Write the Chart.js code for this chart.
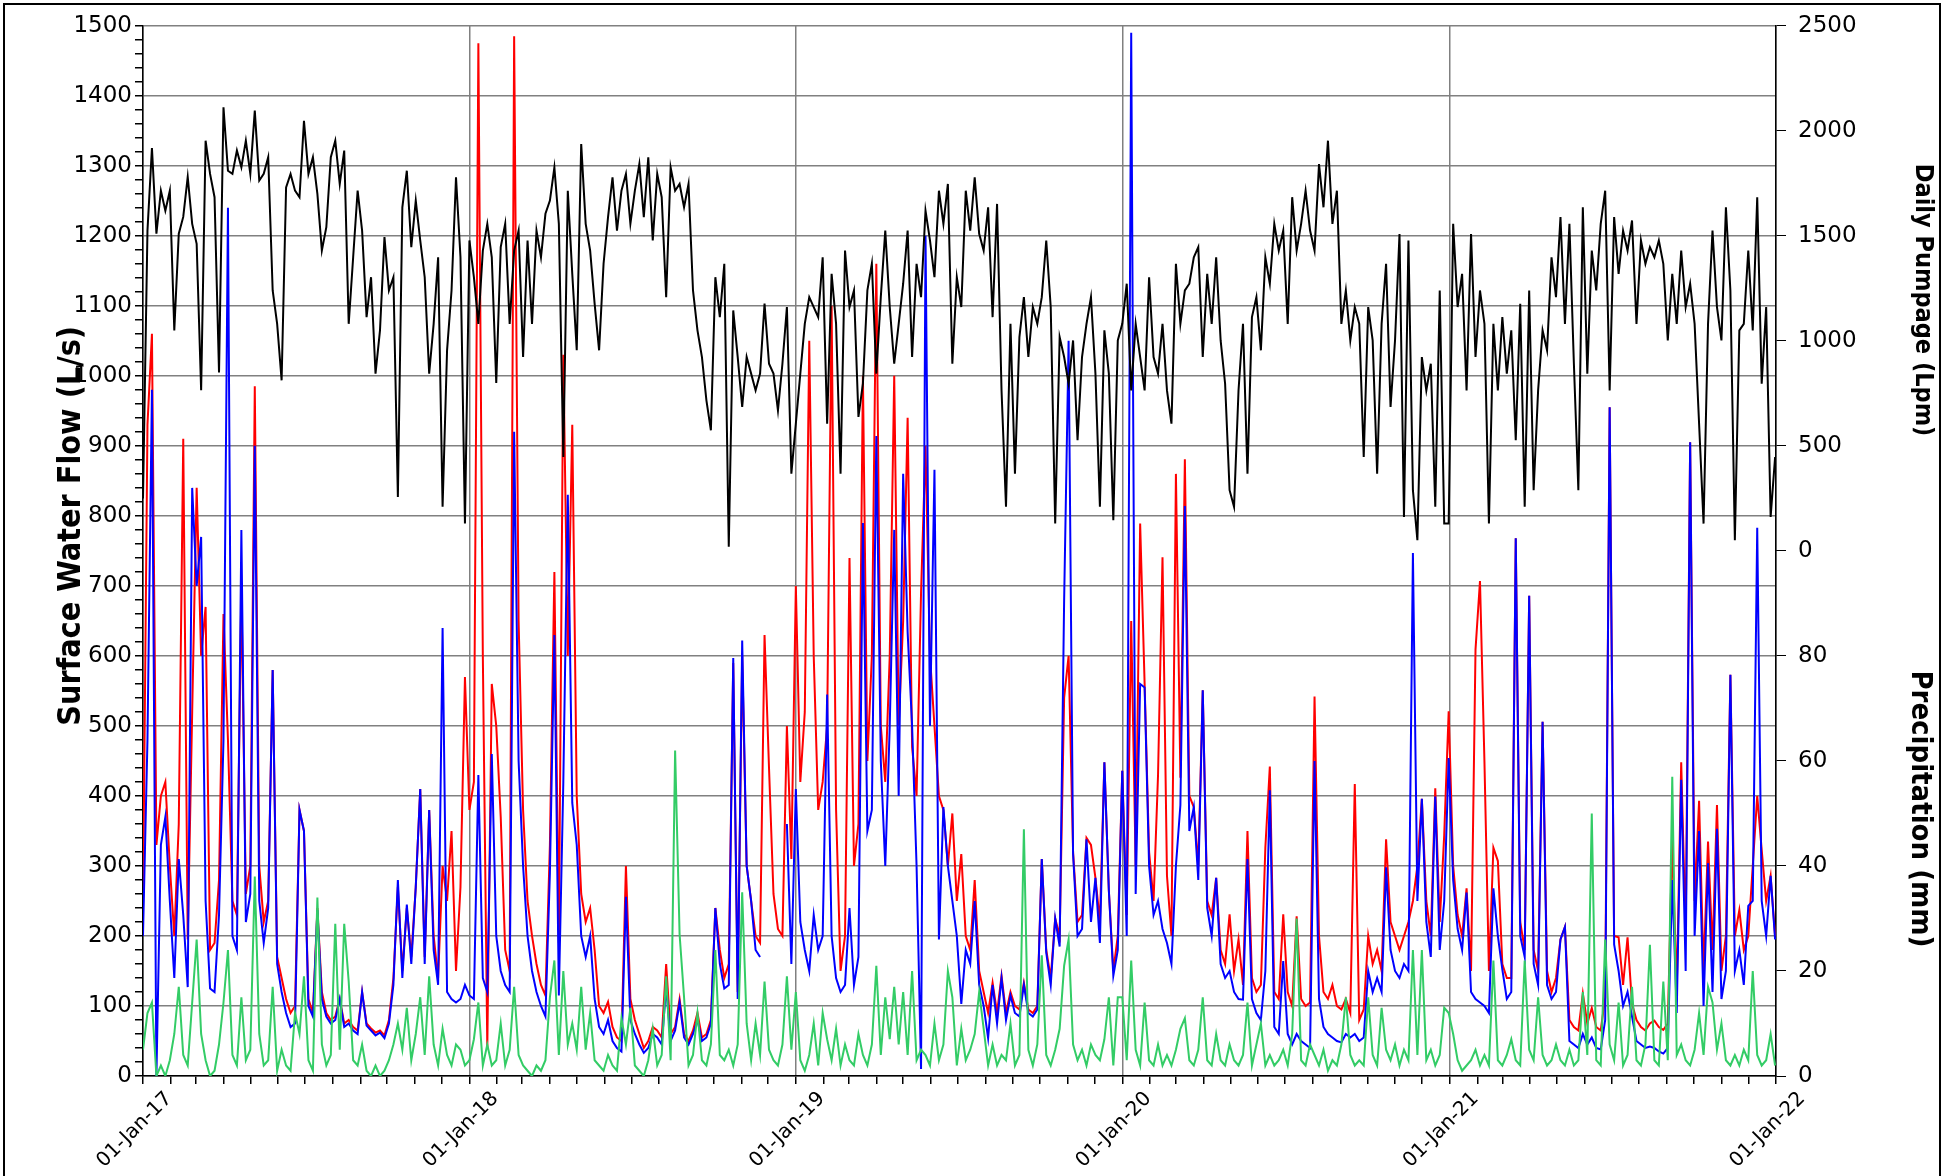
<!DOCTYPE html>
<html>
<head>
<meta charset="utf-8">
<script src="https://cdn.jsdelivr.net/npm/chart.js@4.4.0/dist/chart.umd.min.js"></script>
<style>
  html, body { margin: 0; padding: 0; background: #fff; }
  #wrap { position: relative; width: 1956px; height: 1176px; overflow: hidden; }
  #frame { position: absolute; left: 3px; top: 3px; width: 1934px; height: 1200px; border: 2px solid #000; pointer-events: none; }
</style>
</head>
<body>
<div id="wrap">
  <canvas id="myChart" width="1956" height="1176"></canvas>
  <div id="frame"></div>
</div>
<script>
// one reading every 5 days, starting 01-Jan-2017
const dayStep = 5;
const startDate = '2017-01-01';
const yearStarts = ['2017-01-01', '2018-01-01', '2019-01-01', '2020-01-01', '2021-01-01', '2022-01-01'];
const yearLabels = ['01-Jan-17', '01-Jan-18', '01-Jan-19', '01-Jan-20', '01-Jan-21', '01-Jan-22'];

// daily pumpage (Lpm)
const pump2017 = [250,1525,1918,1510,1715,1620,1715,1050,1510,1590,1780,1557,1462,765,1953,1795,1684,850,2112,1810,1795,1906,1826,1953,1795,2096,1763,1795,1874,1240,1081,812,1731,1795,1715,1684,2048,1795,1874,1700,1430,1541,1874,1953,1747,1906,1081,1398,1715,1525,1113,1303,844,1050,1494,1240,1303,257,1636,1810,1446,1668,1478,1303,844,1081,1398,210,955,1240,1779,1398,130];
const pump2018 = [1478,1303,1081,1430,1557,1398,800,1446,1557,1081,1430,1525,923,1478,1081,1525,1398,1605,1668,1826,1557,447,1715,1319,955,1937,1557,1430,1177,955,1367,1589,1779,1525,1715,1795,1557,1715,1842,1589,1874,1478,1795,1684,1208,1826,1715,1747,1636,1747,1240,1050,923,717,574,1303,1113,1367,20,1145,923,685,923,844,764,844,1177,891,844,669,891,1161,368];
const pump2019 = [606,844,1081,1208,1161,1113,1398,606,1319,1081,368,1430,1161,1240,638,796,1240,1367,844,1208,1525,1161,891,1081,1272,1525,923,1367,1208,1620,1478,1303,1715,1557,1747,891,1303,1161,1715,1525,1779,1510,1430,1636,1113,1652,764,210,1081,368,1018,1208,923,1161,1081,1208,1478,1161,130,1018,923,796,1002,527,923,1081,1208,844,210,1050,844,146,1002];
const pump2020 = [1081,1272,764,1081,923,764,1303,923,844,1081,764,606,1367,1081,1240,1272,1398,1446,923,1319,1081,1398,1002,796,289,210,764,1081,368,1113,1208,955,1398,1272,1557,1430,1525,1081,1684,1430,1557,1715,1525,1430,1842,1636,1953,1557,1715,1081,1240,1002,1161,1081,447,1161,1002,368,1081,1367,685,1002,1509,162,1478,289,51,923,764,891,210,1240,130];
const pump2021 = [130,1557,1161,1319,764,1509,923,1240,1081,130,1081,764,1113,844,1050,527,1177,210,1240,289,764,1050,955,1398,1208,1589,1081,1557,891,289,1636,844,1430,1240,1557,1715,764,1589,1319,1525,1430,1573,1081,1478,1367,1446,1398,1478,1367,1002,1319,1081,1430,1161,1272,1081,606,130,1081,1525,1161,1002,1636,1240,51,1050,1081,1430,1050,1684,796,1161,162,447];

// surface water flow, red station (L/s)
const red2017 = [240,930,1060,330,400,420,300,200,360,910,195,520,840,600,670,180,190,280,660,480,250,230,700,260,300,985,300,220,250,580,170,140,110,90,100,380,350,110,90,240,120,90,80,85,110,75,80,70,65,120,75,68,62,65,58,80,140,270,150,240,170,270,410,170,380,200,140,300,250,350,150,270,570];
const red2018 = [380,420,1475,600,40,560,500,370,180,150,1485,650,380,250,200,160,130,115,330,720,190,1030,600,930,400,260,220,240,180,100,90,106,70,55,50,300,110,80,60,40,50,70,65,55,160,60,70,110,60,50,65,90,55,60,80,240,180,140,160,590,120,600,300,250,200,190,630,440,260,210,200,500,310];
const red2019 = [700,420,520,1050,600,380,420,500,1100,380,150,200,740,300,360,1000,450,600,1160,500,420,600,1000,500,650,940,470,400,690,900,600,500,400,380,300,375,250,317,200,180,280,150,120,90,133,90,143,90,120,100,95,133,95,90,100,310,180,140,225,200,540,600,320,220,230,340,330,283,220,448,265,150,200];
const red2020 = [436,230,650,300,789,560,320,250,430,741,286,200,860,426,881,400,384,300,551,250,230,283,180,160,231,150,195,130,350,140,120,130,326,442,120,110,231,120,100,228,110,100,105,542,200,120,110,130,100,95,110,90,417,80,95,200,160,180,150,338,220,200,180,200,220,250,300,396,250,200,411,220,344];
const red2021 = [521,300,230,200,268,150,609,707,448,150,326,307,160,140,140,768,220,180,686,180,150,506,150,120,140,195,213,80,70,65,118,75,97,70,65,112,955,200,198,130,198,103,80,70,65,75,79,70,66,75,338,120,448,200,905,250,393,150,335,180,387,150,200,573,200,237,180,200,300,400,323,250,286,200];

// surface water flow, blue station (L/s); null = no record
const blue2017 = [200,480,980,0,330,370,250,140,310,230,127,840,700,770,250,125,120,230,480,1240,200,180,780,220,260,900,250,190,240,580,160,120,90,70,75,380,350,100,85,237,110,85,75,80,110,70,75,65,60,120,72,65,58,62,54,75,130,280,140,245,160,270,410,160,380,180,130,640,120,110,105,110,130];
const blue2018 = [115,110,430,140,120,460,200,150,130,120,920,450,300,200,150,120,100,85,290,630,115,420,830,390,330,200,170,200,110,70,60,80,50,40,35,256,80,60,45,33,40,60,55,45,127,50,65,105,55,45,60,80,50,55,75,240,160,125,130,597,110,622,300,250,180,170,null,null,null,null,null,360,160];
const blue2019 = [410,220,180,150,230,180,200,545,200,140,120,130,240,130,170,790,350,380,914,450,300,500,780,400,860,634,500,300,10,1200,500,866,195,384,300,250,200,103,180,160,250,130,100,54,130,75,140,80,115,90,85,130,90,85,95,310,176,130,225,185,680,1050,317,200,210,338,220,283,190,448,265,143,180];
const blue2020 = [436,200,1490,260,560,555,300,230,250,210,190,160,300,387,814,350,384,280,551,240,200,283,160,140,150,120,110,109,310,110,90,80,150,408,70,60,164,60,45,60,50,45,40,450,110,70,60,55,50,48,60,55,60,50,55,150,120,140,120,298,180,150,140,160,150,747,250,396,220,170,399,180,250];
const blue2021 = [454,280,210,180,262,120,110,105,100,90,268,200,152,110,120,768,200,170,686,160,130,506,130,110,120,195,213,50,45,40,60,45,55,40,38,80,955,188,150,100,120,85,50,45,40,42,40,35,32,40,280,90,423,150,905,200,350,100,304,120,353,110,150,573,150,180,130,243,250,783,250,200,286,195];

// precipitation (mm)
const rain2017 = [5,12,14,0,2,0,3,8,17,4,2,14,26,8,3,0,1,6,14,24,4,2,15,3,5,38,8,2,3,17,1,5,2,1,12,8,19,3,1,34,6,2,4,29,5,29,18,3,2,6,1,0,2,0,1,3,6,10,5,13,3,8,15,4,19,6,2,9,4,2,6,5,2];
const rain2018 = [3,7,14,2,6,2,3,10,2,5,17,4,2,1,0,2,1,3,15,22,4,20,6,10,5,17,5,12,3,2,1,4,2,1,11,6,13,2,1,0,3,9,2,4,19,3,62,27,15,2,4,12,3,2,6,24,4,3,5,2,6,35,10,3,10,4,18,5,3,2,6,19,5];
const rain2019 = [16,3,1,4,10,2,12,7,3,9,2,6,3,2,8,4,2,6,21,4,15,7,17,6,16,4,20,3,5,4,2,10,3,6,20,15,2,9,3,5,8,16,9,2,6,2,4,3,10,2,4,47,5,2,6,23,4,2,5,9,21,26,6,3,5,2,6,4,3,7,15,2,15];
const rain2020 = [15,3,22,5,2,14,3,2,6,2,4,2,5,9,11,3,2,5,15,3,2,8,3,2,6,3,2,4,14,2,6,10,2,4,2,3,5,2,8,30,3,2,6,4,2,5,1,3,2,6,15,4,2,3,2,15,4,2,13,5,3,6,2,5,3,24,4,24,3,5,2,4,13];
const rain2021 = [12,8,3,1,2,3,5,2,4,2,22,3,2,4,7,3,2,22,5,3,15,4,2,3,6,3,2,5,2,3,16,4,50,3,2,26,6,3,14,2,4,17,3,2,6,25,3,2,18,3,57,4,6,3,2,5,12,4,17,14,5,10,3,2,4,2,5,3,20,4,2,3,8,2];

const pumpage = [...pump2017, ...pump2018, ...pump2019, ...pump2020, ...pump2021];
const redFlow = [...red2017, ...red2018, ...red2019, ...red2020, ...red2021];
const blueFlow = [...blue2017, ...blue2018, ...blue2019, ...blue2020, ...blue2021];
const rain = [...rain2017, ...rain2018, ...rain2019, ...rain2020, ...rain2021];

const DAY = 86400000;
const dayOf = d => (Date.parse(d) - Date.parse(startDate)) / DAY;
const yearDays = yearStarts.map(dayOf);
const endDay = yearDays[yearDays.length - 1];

// month starts for the small ticks on the date axis
let monthDays = [];
for (let y = 2017; y <= 2021; y++) {
    for (let m = 0; m < 12; m++) {
        monthDays.push((Date.UTC(y, m, 1) - Date.UTC(2017, 0, 1)) / DAY);
    }
}
monthDays.push(endDay);

const toPoints = arr => arr.map((v, i) => ({ x: i * dayStep, y: v }));

// axis title font: take a condensed bold face when one is installed
const measure = document.createElement('canvas').getContext('2d');
function hasFont(f) {
    measure.font = 'bold 40px monospace';
    const a = measure.measureText('Surface Water Flow').width;
    measure.font = 'bold 40px "' + f + '", monospace';
    return measure.measureText('Surface Water Flow').width !== a;
}
const titleFamily = ['DejaVu Sans Condensed', 'Liberation Sans Narrow', 'Liberation Sans'].find(hasFont) || 'sans-serif';
function fitSize(text, len) {
    measure.font = 'bold 100px "' + titleFamily + '"';
    return Math.round(100 * len / measure.measureText(text).width);
}
// blank space before/after a title moves it along its axis
function padTitle(text, size, before, after) {
    measure.font = 'bold ' + size + 'px "' + titleFamily + '"';
    const sp = measure.measureText('\u00a0').width;
    return '\u00a0'.repeat(Math.round(before / sp)) + text + '\u00a0'.repeat(Math.round(after / sp));
}

const leftTitle = 'Surface Water Flow (L/s)';
const pumpTitle = 'Daily Pumpage (Lpm)';
const rainTitle = 'Precipitation (mm)';
const leftSize = fitSize(leftTitle, 395);
const pumpSize = fitSize(pumpTitle, 276);
const rainSize = fitSize(rainTitle, 277);

const padLeft = Math.round(71 - 0.6 * leftSize);
const padRight = Math.round(1956 - 1920 - 0.6 * Math.max(pumpSize, rainSize));

const tickFont = { family: 'DejaVu Sans', size: 23 };
const gridGrey = '#808080';
const none = 'rgba(0,0,0,0)';

const ctx = document.getElementById('myChart');

const data = {
    datasets: [
        { label: 'Daily Pumpage', data: toPoints(pumpage), yAxisID: 'y2', borderColor: '#000000', borderWidth: 2, order: 0 },
        { label: 'Precipitation', data: toPoints(rain), yAxisID: 'y3', borderColor: '#33cc66', borderWidth: 2, order: 1 },
        { label: 'Surface Water Flow (blue)', data: toPoints(blueFlow), yAxisID: 'y', borderColor: '#0000ff', borderWidth: 2, order: 2 },
        { label: 'Surface Water Flow (red)', data: toPoints(redFlow), yAxisID: 'y', borderColor: '#ff0000', borderWidth: 2, order: 3 }
    ]
};

const config = {
    type: 'line',
    data: data,
    options: {
        responsive: false,
        animation: false,
        devicePixelRatio: 1,
        spanGaps: false,
        elements: { point: { radius: 0 }, line: { tension: 0 } },
        layout: { padding: { left: padLeft, right: padRight, top: 25, bottom: 0 } },
        plugins: { legend: { display: false }, tooltip: { enabled: false } },
        scales: {
            x: {
                type: 'linear',
                min: 0,
                max: endDay,
                afterBuildTicks: s => { s.ticks = monthDays.map(v => ({ value: v })); },
                afterFit: s => { s.height = 100; },
                ticks: {
                    autoSkip: false,
                    maxRotation: 45,
                    minRotation: 45,
                    labelOffset: 26,
                    color: '#000',
                    font: { family: 'DejaVu Sans', size: 20 },
                    callback: v => {
                        const i = yearDays.indexOf(v);
                        return i >= 0 ? yearLabels[i] : '';
                    }
                },
                grid: {
                    color: c => yearDays.includes(c.tick.value) ? gridGrey : none,
                    lineWidth: 1.5,
                    tickColor: '#000',
                    tickLength: 8
                },
                border: { color: '#000', width: 1.5 }
            },
            y: {
                position: 'left',
                min: 0,
                max: 1500,
                afterBuildTicks: s => {
                    let t = [];
                    for (let v = 0; v <= 1500; v += 20) t.push({ value: v });
                    s.ticks = t;
                },
                afterFit: s => { s.width = 143 - padLeft; },
                ticks: {
                    autoSkip: false,
                    color: '#000',
                    font: tickFont,
                    padding: 3,
                    callback: v => (v % 100 === 0 ? String(v) : '')
                },
                grid: {
                    color: c => (c.tick.value % 100 === 0 ? gridGrey : none),
                    lineWidth: 1.5,
                    tickColor: '#000',
                    tickLength: 8
                },
                border: { color: '#000', width: 1.5 },
                title: {
                    display: true,
                    text: padTitle(leftTitle, leftSize, 50, 0),
                    color: '#000',
                    font: { family: '"' + titleFamily + '"', size: leftSize, weight: 'bold' },
                    padding: 0
                }
            },
            y2: {
                position: 'right',
                stack: 'right',
                stackWeight: 1,
                min: 0,
                max: 2500,
                afterFit: s => { s.width = 1956 - padRight - 1776; },
                ticks: { stepSize: 500, color: '#000', font: tickFont, padding: 12, callback: v => String(v) },
                grid: { drawOnChartArea: false, tickColor: '#000', tickLength: 10 },
                border: { color: '#000', width: 1.5 },
                title: {
                    display: true,
                    text: padTitle(pumpTitle, pumpSize, 22, 0),
                    color: '#000',
                    font: { family: '"' + titleFamily + '"', size: pumpSize, weight: 'bold' },
                    padding: 0
                }
            },
            y3: {
                position: 'right',
                stack: 'right',
                stackWeight: 1,
                min: 0,
                max: 100,
                afterFit: s => { s.width = 1956 - padRight - 1776; },
                ticks: { stepSize: 10, color: '#000', font: tickFont, padding: 12, callback: v => (v < 100 ? String(v) : '') },
                grid: { drawOnChartArea: false, tickColor: '#000', tickLength: 10 },
                border: { color: '#000', width: 1.5 },
                title: {
                    display: true,
                    text: padTitle(rainTitle, rainSize, 0, 12),
                    color: '#000',
                    font: { family: '"' + titleFamily + '"', size: rainSize, weight: 'bold' },
                    padding: 0
                }
            }
        }
    }
};

window.myChart = new Chart(ctx, config);
</script>
</body>
</html>
